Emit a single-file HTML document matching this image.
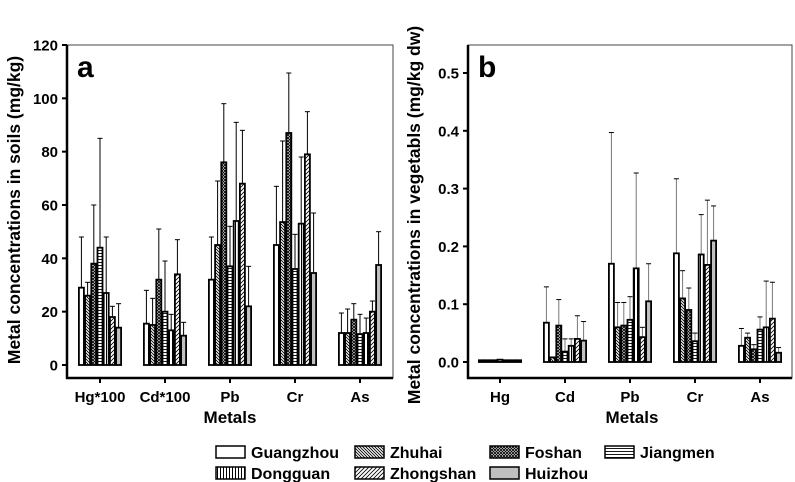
<!DOCTYPE html>
<html><head><meta charset="utf-8">
<style>
html,body{margin:0;padding:0;background:#fff;}
svg{display:block;font-family:"Liberation Sans",Arial,sans-serif;font-weight:bold;}
</style></head>
<body>
<svg id="chart" width="795" height="482" viewBox="0 0 795 482" xmlns="http://www.w3.org/2000/svg">
<defs>
<pattern id="p0" patternUnits="userSpaceOnUse" width="4" height="4"><rect width="4" height="4" fill="#fff"/></pattern>
<pattern id="p1" patternUnits="userSpaceOnUse" width="3" height="3"><rect width="3" height="3" fill="#fff"/><path d="M-1,-1 L4,4 M-1,2 L1,4 M2,-1 L4,1" stroke="#000" stroke-width="0.9"/></pattern>
<pattern id="p2" patternUnits="userSpaceOnUse" width="3" height="3"><rect width="3" height="3" fill="#fff"/><path d="M0,0 L3,3 M3,0 L0,3" stroke="#000" stroke-width="0.9"/></pattern>
<pattern id="p3" patternUnits="userSpaceOnUse" width="4" height="3"><rect width="4" height="3" fill="#fff"/><path d="M0,1.5 L4,1.5" stroke="#000" stroke-width="0.9"/></pattern>
<pattern id="p4" patternUnits="userSpaceOnUse" width="3" height="4"><rect width="3" height="4" fill="#fff"/><path d="M1.5,0 L1.5,4" stroke="#000" stroke-width="1"/></pattern>
<pattern id="p5" patternUnits="userSpaceOnUse" width="4" height="4"><rect width="4" height="4" fill="#fff"/><path d="M-1,5 L5,-1 M-1,1 L1,-1 M3,5 L5,3" stroke="#000" stroke-width="0.8"/></pattern>
<pattern id="p6" patternUnits="userSpaceOnUse" width="4" height="4"><rect width="4" height="4" fill="#c0c0c0"/></pattern>
</defs>
<g id="plots"></g>
<g font-size="16">
<rect x="216" y="446" width="29" height="12" fill="url(#p0)" stroke="#000" stroke-width="1.5"/>
<text x="251" y="458">Guangzhou</text>
<rect x="355" y="446" width="29" height="12" fill="url(#p1)" stroke="#000" stroke-width="1.5"/>
<text x="390" y="458">Zhuhai</text>
<rect x="490" y="446" width="29" height="12" fill="url(#p2)" stroke="#000" stroke-width="1.5"/>
<text x="525" y="458">Foshan</text>
<rect x="605" y="446" width="29" height="12" fill="url(#p3)" stroke="#000" stroke-width="1.5"/>
<text x="640" y="458">Jiangmen</text>
<rect x="216" y="467" width="29" height="12" fill="url(#p4)" stroke="#000" stroke-width="1.5"/>
<text x="251" y="479">Dongguan</text>
<rect x="355" y="467" width="29" height="12" fill="url(#p5)" stroke="#000" stroke-width="1.5"/>
<text x="390" y="479">Zhongshan</text>
<rect x="490" y="467" width="29" height="12" fill="url(#p6)" stroke="#000" stroke-width="1.5"/>
<text x="525" y="479">Huizhou</text>
</g>
</svg>
<script>
const catsA = ["Hg*100","Cd*100","Pb","Cr","As"];
const catsB = ["Hg","Cd","Pb","Cr","As"];
const cities = ["Guangzhou","Zhuhai","Foshan","Jiangmen","Dongguan","Zhongshan","Huizhou"];
const soilMean = [
 [29,26,38,44,27,18,14],
 [15.5,15,32,20,13,34,11],
 [32,45,76,37,54,68,22],
 [45,53.6,87,36,53,79,34.5],
 [12,12,17,11.6,12,20,37.5]];
const soilTop = [
 [48,31,60,85,48,22,23],
 [28,25,51,39,19,47,16],
 [48,69,98,52,91,88,37],
 [67,84,109.5,49,78,95,57],
 [19.5,21,23,19,17.6,24,50]];
const vegMean = [
 [0.003,0.003,0.003,0.004,0.003,0.003,0.003],
 [0.068,0.008,0.063,0.018,0.028,0.04,0.037],
 [0.17,0.06,0.063,0.073,0.162,0.043,0.105],
 [0.188,0.11,0.09,0.036,0.186,0.168,0.21],
 [0.028,0.042,0.022,0.056,0.06,0.075,0.016]];
const vegTop = [
 [0.003,0.003,0.003,0.004,0.003,0.003,0.003],
 [0.13,0.008,0.108,0.04,0.04,0.08,0.07],
 [0.397,0.103,0.103,0.113,0.327,0.06,0.17],
 [0.317,0.158,0.128,0.05,0.255,0.28,0.27],
 [0.058,0.05,0.03,0.078,0.14,0.138,0.025]];
const ticksA = [0,20,40,60,80,100,120];
const ticksB = ["0.0","0.1","0.2","0.3","0.4","0.5"];

const NS="http://www.w3.org/2000/svg";
const root=document.getElementById('plots');
function mk(tag,attrs,parent){const e=document.createElementNS(NS,tag);for(const k in attrs)e.setAttribute(k,attrs[k]);(parent||root).appendChild(e);return e;}

function panel(cfg){
  const g=mk('g',{});
  
  
  const y=v=>cfg.y0+(v-cfg.vmin)*(cfg.y1-cfg.y0)/(cfg.vmax-cfg.vmin);
  const gw=cfg.groupStep, pitch=6.2;
  const fr=mk('rect',{x:cfg.left,y:cfg.top,width:cfg.right-cfg.left,height:cfg.bottom-cfg.top,fill:'none',stroke:'#444','stroke-width':1},g);
  
  
  cfg.mean.forEach((row,i)=>{
    const cx=cfg.firstCenter+i*gw;
    row.forEach((v,j)=>{
      const bx=cx-3.5*pitch+j*pitch;
      const yt=y(v);
      const t=y(cfg.top_[i][j]);
      if(cfg.top_[i][j]>v){
        const el=mk('line',{x1:bx+pitch/2,x2:bx+pitch/2,y1:yt,y2:t,stroke:cfg.errColor,'stroke-width':1},g);
        
        
        const cap=mk('line',{x1:bx+pitch/2-2.5,x2:bx+pitch/2+2.5,y1:t,y2:t,stroke:'#000','stroke-width':1},g);
        
        
      }
      const r=mk('rect',{x:bx+0.6,y:yt,width:pitch-1.2,height:Math.max(0.5,y(0)-yt),fill:'url(#p'+j+')',stroke:'#000','stroke-width':1.8},g);
      
      
    });
    const tk=mk('line',{x1:cx,x2:cx,y1:cfg.bottom,y2:cfg.bottom+5,stroke:'#000','stroke-width':2},g);
    
    
    const tl=mk('text',{x:cx,y:cfg.bottom+24,'text-anchor':'middle','font-size':15},g);
    tl.textContent=cfg.cats[i];
    
    
  });
  cfg.ticks.forEach(t=>{
    const v=parseFloat(t), yy=y(v);
    const tk=mk('line',{x1:cfg.left-5,x2:cfg.left,y1:yy,y2:yy,stroke:'#000','stroke-width':2},g);
    
    
    const tl=mk('text',{x:cfg.left-9,y:yy+5.5,'text-anchor':'end','font-size':15},g);
    tl.textContent=t;
    
    
  });
  const ax=mk('line',{x1:cfg.left,x2:cfg.left,y1:cfg.top,y2:cfg.bottom+1,stroke:'#000','stroke-width':2.5},g);
  
  
  const bx=mk('line',{x1:cfg.left-1,x2:cfg.right,y1:cfg.bottom,y2:cfg.bottom,stroke:'#000','stroke-width':2.5},g);
  
  
  const lb=mk('text',{x:cfg.left+10,y:cfg.top+32,'font-size':30},g);
  lb.textContent=cfg.letter;
  
  
  const xt=mk('text',{x:cfg.xtx,y:cfg.bottom+45,'text-anchor':'middle','font-size':17},g);
  xt.textContent='Metals';
  
  
  const yt=mk('text',{x:0,y:0,'text-anchor':'middle','font-size':17.5,transform:'translate('+cfg.ytx+','+cfg.yty+') rotate(-90)'},g);
  yt.textContent=cfg.ytitle;
  
  
}
panel({name:'panel-a-soils',cats:catsA,mean:soilMean,top_:soilTop,ticks:ticksA.map(String),vmin:0,vmax:120,y0:365,y1:45,
  left:67,right:393,top:45,bottom:378,firstCenter:100,groupStep:65,letter:'a',ytitle:'Metal concentrations in soils (mg/kg)',ytx:20,yty:210,xtx:230,errColor:'#000'});
panel({name:'panel-b-vegetables',cats:catsB,mean:vegMean,top_:vegTop,ticks:ticksB,vmin:0,vmax:0.5,y0:362,y1:73,
  left:468,right:792,top:45,bottom:378,firstCenter:500,groupStep:65,letter:'b',ytitle:'Metal concentrations in vegetabls (mg/kg dw)',ytx:420,yty:215,xtx:632,errColor:'#777'});
</script>
</body></html>
